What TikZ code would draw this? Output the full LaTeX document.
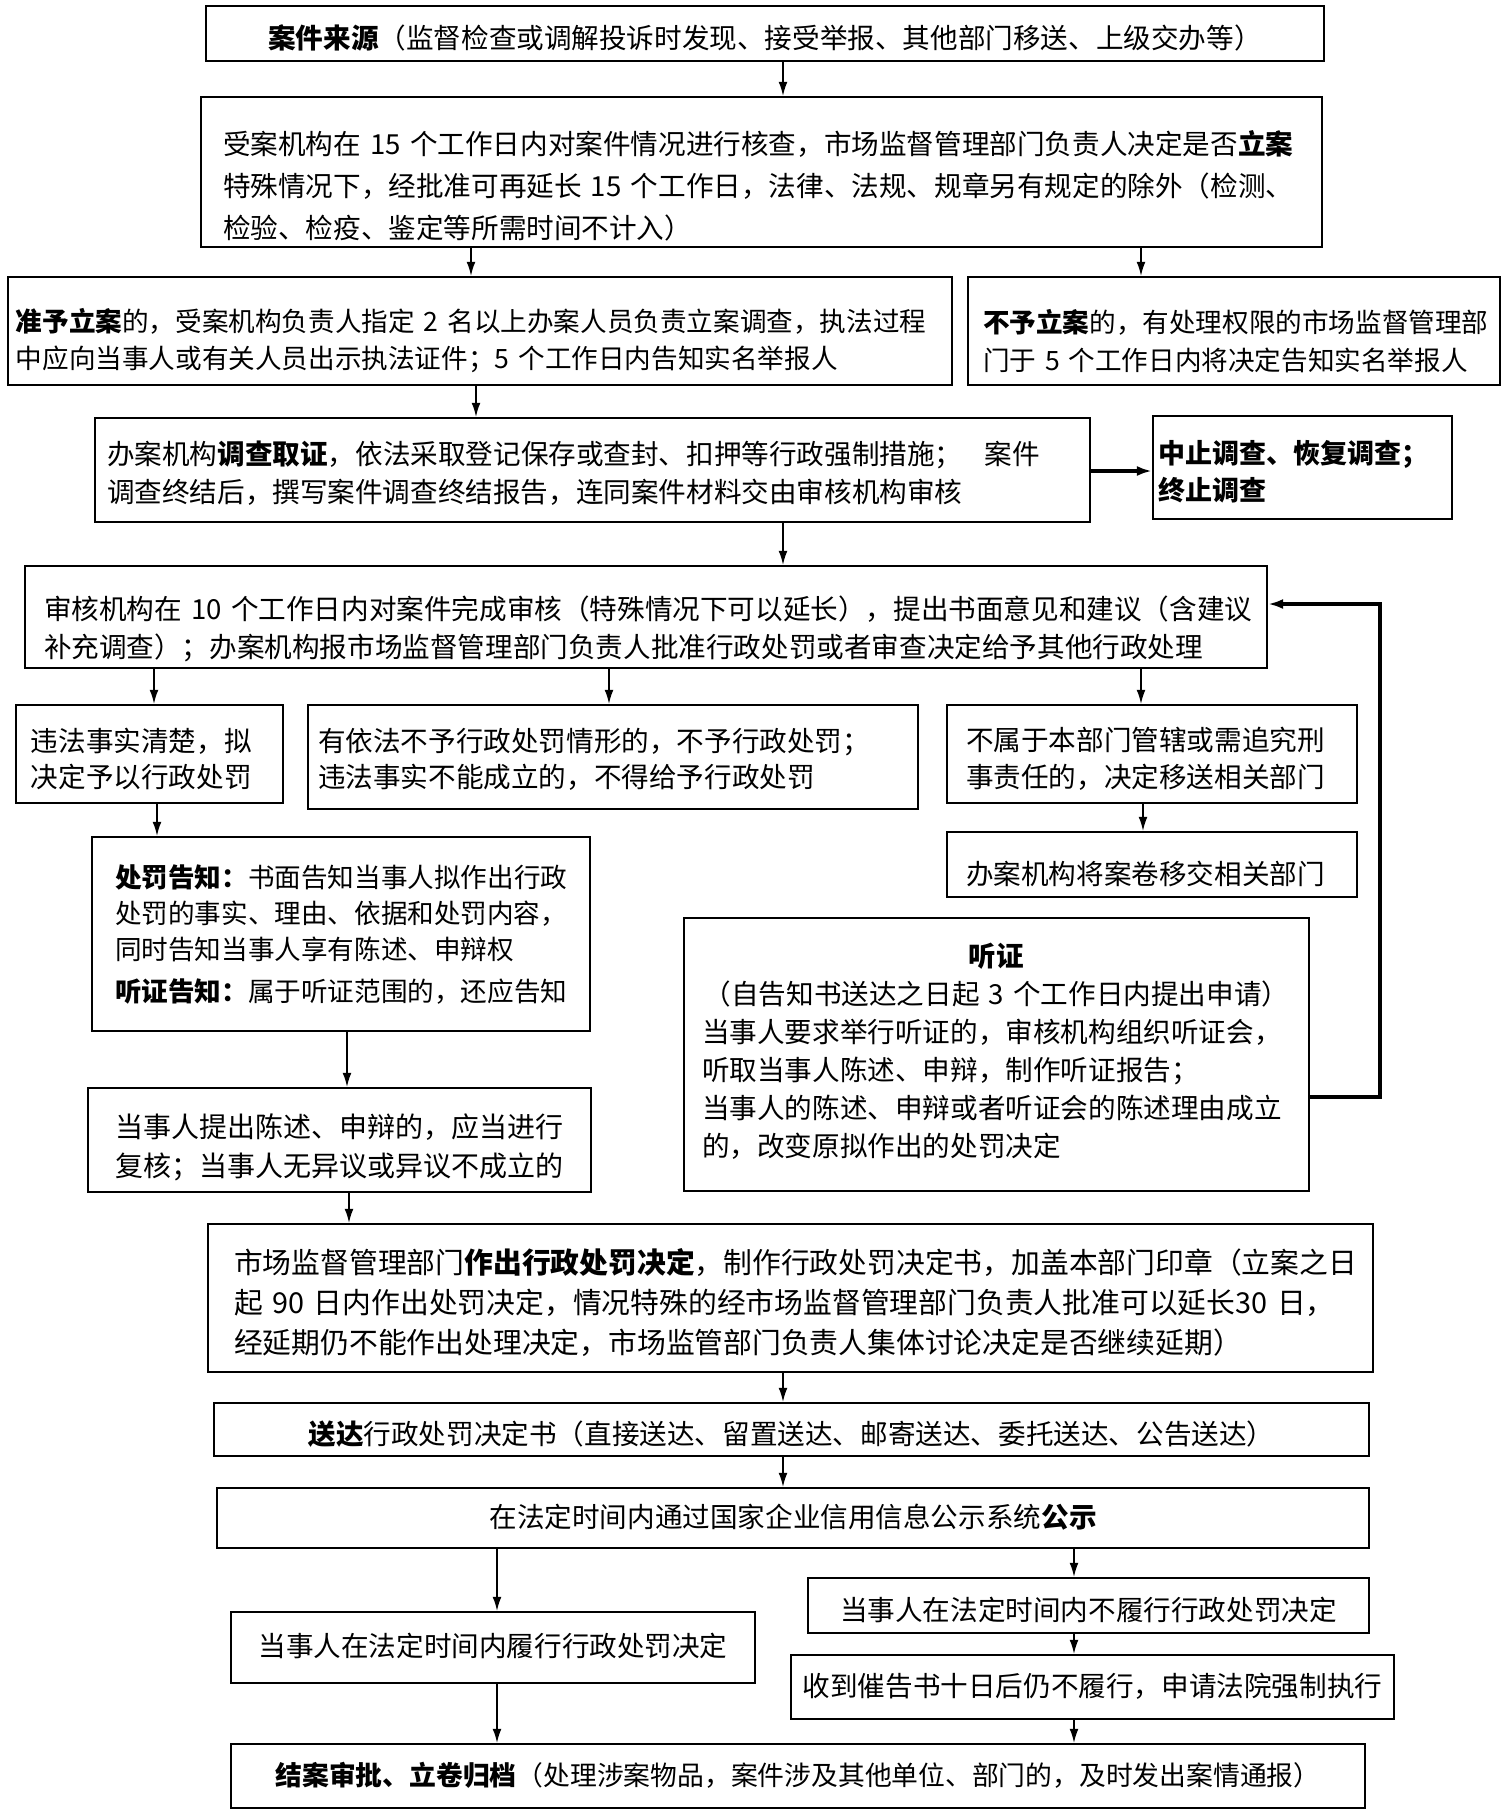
\documentclass[tikz,border=0pt]{standalone}
\usepackage{fontspec}
\setmainfont{Noto Sans CJK SC}
\usetikzlibrary{arrows.meta}

\begin{document}
\begin{tikzpicture}[x=0.5pt,y=-0.5pt,
    kuang/.style={draw,line width=1.1pt,inner sep=0pt,font=\fontsize{13.8pt}{19pt}\selectfont},
    jiantou/.style={line width=0.75pt,-{Latex[length=7pt,width=4.4pt]}},
    cu/.style={line width=1.7pt,-{Latex[length=7.5pt,width=5pt]}}]
    % 画布大小
    \useasboundingbox (0,0) rectangle (1505,1811);

    % 立案阶段
    \node[kuang,minimum width=559pt,minimum height=27.5pt,text width=545pt,align=center,text height=14.8pt,text depth=0pt] (laiyuan) at (765,33.5)
        {\textbf{案件来源}（监督检查或调解投诉时发现、接受举报、其他部门移送、上级交办等）};
    \node[kuang,minimum width=560.5pt,minimum height=75pt,text width=538.5pt,align=left,text height=0pt,text depth=17.3pt,font=\fontsize{13.8pt}{21pt}\selectfont] (hecha) at (761.5,172)
        {受案机构在~15~个工作日内对案件情况进行核查，市场监督管理部门负责人决定是否\textbf{立案}\\
         特殊情况下，经批准可再延长~15~个工作日，法律、法规、规章另有规定的除外（检测、\\
         检验、检疫、鉴定等所需时间不计入）};
    \node[kuang,minimum width=472pt,minimum height=54pt,text width=464pt,align=left,text height=0.3pt,text depth=0pt,font=\fontsize{13.3pt}{18.5pt}\selectfont] (lian) at (480,331)
        {\textbf{准予立案}的，受案机构负责人指定~2~名以上办案人员负责立案调查，执法过程\\
         中应向当事人或有关人员出示执法证件；5~个工作日内告知实名举报人};
    \node[kuang,minimum width=266pt,minimum height=54pt,text width=251pt,align=left,text height=1.6pt,text depth=0pt,font=\fontsize{13.3pt}{19pt}\selectfont] (buli) at (1234,331)
        {\textbf{不予立案}的，有处理权限的市场监督管理部\\
         门于~5~个工作日内将决定告知实名举报人};

    % 调查与审核
    \node[kuang,minimum width=497.5pt,minimum height=52pt,text width=485.5pt,align=left,text height=0pt,text depth=5.7pt] (diaocha) at (592.5,470)
        {办案机构\textbf{调查取证}，依法采取登记保存或查封、扣押等行政强制措施；\kern0.8em 案件\\
         调查终结后，撰写案件调查终结报告，连同案件材料交由审核机构审核};
    \node[kuang,minimum width=149.5pt,minimum height=51.5pt,text width=144.5pt,align=left,text height=0pt,text depth=4.2pt,font=\fontsize{13.5pt}{18.5pt}\selectfont] (zhongzhi) at (1302.5,467.5)
        {\textbf{中止调查、恢复调查；}\\
         \textbf{终止调查}};
    \node[kuang,minimum width=621pt,minimum height=51pt,text width=602pt,align=left,text height=2.3pt,text depth=0pt] (shenhe) at (646,617)
        {审核机构在~10~个工作日内对案件完成审核（特殊情况下可以延长），提出书面意见和建议（含建议\\
         补充调查）；办案机构报市场监督管理部门负责人批准行政处罚或者审查决定给予其他行政处理};

    % 三种处理
    \node[kuang,minimum width=133.5pt,minimum height=49pt,text width=118.5pt,align=left,text height=0pt,text depth=2.2pt,font=\fontsize{13.8pt}{18pt}\selectfont] (chufa) at (149.5,754)
        {违法事实清楚，拟\\
         决定予以行政处罚};
    \node[kuang,minimum width=305pt,minimum height=52pt,text width=295pt,align=left,text height=0pt,text depth=5.2pt,font=\fontsize{13.8pt}{18pt}\selectfont] (buchufa) at (613,757)
        {有依法不予行政处罚情形的，不予行政处罚；\\
         违法事实不能成立的，不得给予行政处罚};
    \node[kuang,minimum width=205pt,minimum height=49pt,text width=186pt,align=left,text height=0pt,text depth=3.7pt,font=\fontsize{13.8pt}{18.5pt}\selectfont] (yisong) at (1152,754)
        {不属于本部门管辖或需追究刑\\
         事责任的，决定移送相关部门};
    \node[kuang,minimum width=205pt,minimum height=32.5pt,text width=186pt,align=left,text height=19.8pt,text depth=0pt] (yijiao) at (1152,864.5)
        {办案机构将案卷移交相关部门};

    % 告知与听证
    \node[kuang,minimum width=249pt,minimum height=97pt,text width=226pt,align=left,text height=0pt,text depth=46.7pt,font=\fontsize{13.3pt}{18pt}\selectfont] (gaozhi) at (341,934)
        {\textbf{处罚告知：}书面告知当事人拟作出行政\\
         处罚的事实、理由、依据和处罚内容，\\
         同时告知当事人享有陈述、申辩权\\[3pt]
         \textbf{听证告知：}属于听证范围的，还应告知};
    \node[kuang,minimum width=312.5pt,minimum height=136.5pt,text width=294.5pt,align=left,text height=0pt,text depth=88.2pt] (tingzheng) at (996.5,1054.5)
        {\makebox[\linewidth]{\textbf{听证}}\\
         \makebox[\linewidth]{（自告知书送达之日起~3~个工作日内提出申请）}\\
         当事人要求举行听证的，审核机构组织听证会，\\
         听取当事人陈述、申辩，制作听证报告；\\
         当事人的陈述、申辩或者听证会的陈述理由成立\\
         的，改变原拟作出的处罚决定};
    \node[kuang,minimum width=251.5pt,minimum height=52pt,text width=224.5pt,align=left,text height=0pt,text depth=2.7pt,font=\fontsize{14pt}{19.5pt}\selectfont] (fuhe) at (339.5,1140)
        {当事人提出陈述、申辩的，应当进行\\
         复核；当事人无异议或异议不成立的};

    % 决定与执行
    \node[kuang,minimum width=582.5pt,minimum height=74pt,text width=556.5pt,align=left,text height=0pt,text depth=24.2pt,font=\fontsize{14.4pt}{20pt}\selectfont] (jueding) at (790.5,1298)
        {市场监督管理部门\textbf{作出行政处罚决定}，制作行政处罚决定书，加盖本部门印章（立案之日\\
         起~90~日内作出处罚决定，情况特殊的经市场监督管理部门负责人批准可以延长30~日，\\
         经延期仍不能作出处理决定，市场监管部门负责人集体讨论决定是否继续延期）};
    \node[kuang,minimum width=577.5pt,minimum height=26.5pt,text width=565pt,align=center,text height=15.3pt,text depth=0pt] (songda) at (791.5,1429.5)
        {\textbf{送达}行政处罚决定书（直接送达、留置送达、邮寄送达、委托送达、公告送达）};
    \node[kuang,minimum width=576pt,minimum height=30pt,text width=565pt,align=center,text height=9pt,text depth=0pt] (gongshi) at (793,1518)
        {在法定时间内通过国家企业信用信息公示系统\textbf{公示}};
    \node[kuang,minimum width=280.5pt,minimum height=27.5pt,text width=275pt,align=center,text height=15pt,text depth=0pt] (bulvxing) at (1088.5,1605.5)
        {当事人在法定时间内不履行行政处罚决定};
    \node[kuang,minimum width=262pt,minimum height=35.5pt,text width=255pt,align=center,text height=9pt,text depth=0pt] (lvxing) at (493,1647.5)
        {当事人在法定时间内履行行政处罚决定};
    \node[kuang,minimum width=301.5pt,minimum height=32pt,text width=298pt,align=center,text height=9.5pt,text depth=0pt] (qiangzhi) at (1092.5,1687)
        {收到催告书十日后仍不履行，申请法院强制执行};
    \node[kuang,minimum width=567pt,minimum height=32pt,text width=560pt,align=center,text height=9.5pt,text depth=0pt,font=\fontsize{13.4pt}{19pt}\selectfont] (jiean) at (798,1776)
        {\textbf{结案审批、立卷归档}（处理涉案物品，案件涉及其他单位、部门的，及时发出案情通报）};

    % 连线
    \draw[jiantou] (laiyuan.south -| 783,0) -- (hecha.north -| 783,0);
    \draw[jiantou] (hecha.south -| 471,0) -- (lian.north -| 471,0);
    \draw[jiantou] (hecha.south -| 1141,0) -- (buli.north -| 1141,0);
    \draw[jiantou] (lian.south -| 476,0) -- (diaocha.north -| 476,0);
    \draw[cu] (diaocha.east |- 0,471) -- (zhongzhi.west |- 0,471);
    \draw[jiantou] (diaocha.south -| 783,0) -- (shenhe.north -| 783,0);
    \draw[jiantou] (shenhe.south -| 154,0) -- (chufa.north -| 154,0);
    \draw[jiantou] (shenhe.south -| 609,0) -- (buchufa.north -| 609,0);
    \draw[jiantou] (shenhe.south -| 1141,0) -- (yisong.north -| 1141,0);
    \draw[jiantou] (yisong.south -| 1143,0) -- (yijiao.north -| 1143,0);
    \draw[jiantou] (chufa.south -| 157,0) -- (gaozhi.north -| 157,0);
    \draw[jiantou] (gaozhi.south -| 347,0) -- (fuhe.north -| 347,0);
    \draw[jiantou] (fuhe.south -| 349,0) -- (jueding.north -| 349,0);
    \draw[cu] (tingzheng.east |- 0,1097) -| (1380,604) -- (shenhe.east |- 0,604);
    \draw[jiantou] (jueding.south -| 783,0) -- (songda.north -| 783,0);
    \draw[jiantou] (songda.south -| 783,0) -- (gongshi.north -| 783,0);
    \draw[jiantou] (gongshi.south -| 497,0) -- (lvxing.north -| 497,0);
    \draw[jiantou] (gongshi.south -| 1074,0) -- (bulvxing.north -| 1074,0);
    \draw[jiantou] (bulvxing.south -| 1074,0) -- (qiangzhi.north -| 1074,0);
    \draw[jiantou] (lvxing.south -| 497,0) -- (jiean.north -| 497,0);
    \draw[jiantou] (qiangzhi.south -| 1074,0) -- (jiean.north -| 1074,0);

\end{tikzpicture}
\end{document}
